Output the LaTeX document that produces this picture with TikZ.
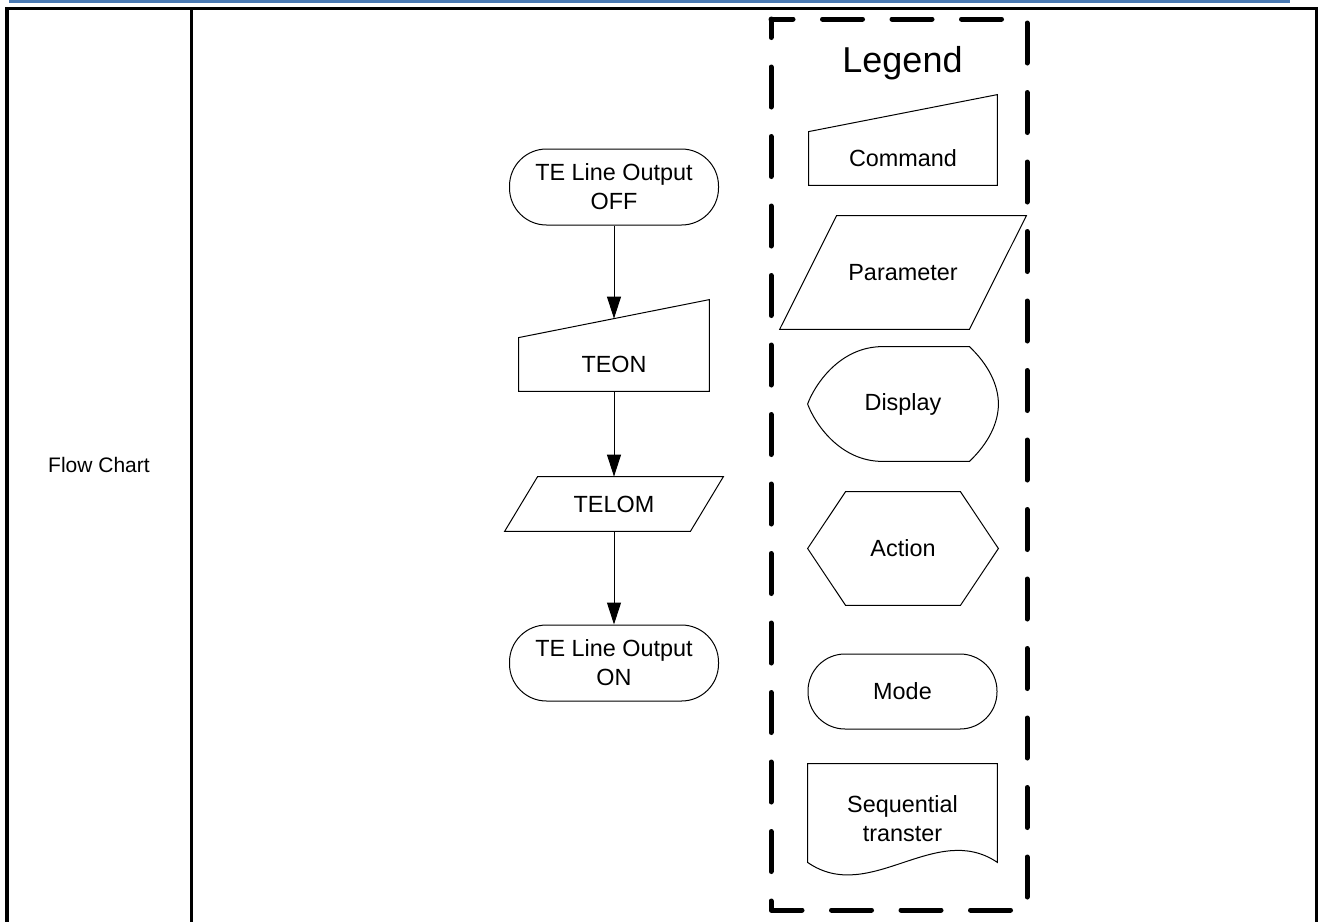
\documentclass[tikz,border=0pt]{standalone}
\usepackage{fontspec}
\setmainfont{Liberation Sans}
\usetikzlibrary{positioning,arrows.meta,calc}
\definecolor{headerblue}{RGB}{74,122,180}

\begin{document}
\begin{tikzpicture}[
  x=0.5pt, y=-0.5pt,
  font=\fontsize{11.7}{14.5}\selectfont,
  txt/.style={inner sep=0pt, align=center},
  modebox/.style={txt, draw, line width=0.5pt, rounded corners=18.5pt,
                  minimum width=104.5pt, minimum height=38pt},
  cmdbody/.style={txt, minimum width=95pt, minimum height=26.5pt},
  outline/.style={line width=0.5pt, line join=miter},
  arr/.style={-{Triangle[length=11pt,width=7pt]}, line width=0.5pt},
  rule/.style={line width=1.5pt},
  legendframe/.style={line width=2.5pt, line cap=round, line join=round,
                      dash pattern=on 20pt off 14.75pt, dash phase=9pt}
]
\useasboundingbox (0,0) rectangle (1323,922);

%% table frame
\fill[headerblue] (9,0) rectangle (1290,2.7);
\draw[line width=1.4pt] (5,8.3) -- (1318,8.3);
\draw[line width=2pt] (7,8.3) -- (7,922);
\draw[rule] (191.3,8.3) -- (191.3,922);
\draw[rule] (1316.5,8.3) -- (1316.5,922);
\node[font=\fontsize{10.5}{12.6}\selectfont] (rowlabel) at (99,465) {Flow Chart};

%% flow chart
\node[modebox] (off) at (614,187) {TE Line Output\\OFF};
\node[cmdbody] (teon) at (614,364.5) {TEON};
\node[txt, minimum width=76pt, minimum height=27pt] (telom) at (614,504) {TELOM};
\node[modebox] (on) at (614,663) {TE Line Output\\ON};
\coordinate (teonin) at ($(teon.north)+(0,-19)$);

\draw[outline] (teon.south west) -- (teon.north west)
  -- ($(teon.north east)+(0,-38)$) -- (teon.south east) -- cycle;
\draw[outline] (telom.north west) -- ($(telom.north east)+(33,0)$)
  -- (telom.south east) -- ($(telom.south west)+(-33,0)$) -- cycle;

\draw[arr] (off.south) -- (teonin);
\draw[arr] (teon.south) -- (telom.north);
\draw[arr] (telom.south) -- (on.north);

%% legend
\draw[legendframe] (771,19) -- (1027,19) -- (1027,910) -- (771,910) -- cycle;
\node[txt, font=\fontsize{18}{22}\selectfont] (legend) at (902.5,63) {Legend};
\node[cmdbody, minimum width=94pt] (cmd) at (903,158.5) {Command};
\node[txt, minimum width=66pt, minimum height=56.5pt] (param) at (903,272.5) {Parameter};
\node[txt, minimum width=95pt, minimum height=57pt] (disp) at (903,404) {Display};
\node[txt, minimum width=95pt, minimum height=56.5pt] (act) at (903,548.5) {Action};
\node[modebox, minimum width=94.5pt, minimum height=37.5pt] (mode) at (902.5,691.5) {Mode};
\node[txt, minimum width=94.5pt, minimum height=55pt] (seq) at (902.5,819) {Sequential\\transter};

\draw[outline] (cmd.south west) -- (cmd.north west)
  -- ($(cmd.north east)+(0,-37)$) -- (cmd.south east) -- cycle;
\draw[outline] (param.north west) -- ($(param.north east)+(57,0)$)
  -- (param.south east) -- ($(param.south west)+(-57,0)$) -- cycle;
\draw[outline] ($(disp.north west)+(75,0)$) -- ($(disp.north east)+(-29,0)$)
  .. controls ($(disp.north east)+(-10,18)$) and ($(disp.east)+(0,-19)$) .. (disp.east)
  .. controls ($(disp.east)+(0,19)$) and ($(disp.south east)+(-10,-18)$) .. ($(disp.south east)+(-29,0)$)
  -- ($(disp.south west)+(75,0)$)
  .. controls ($(disp.south west)+(32,0)$) and ($(disp.west)+(7,19)$) .. (disp.west)
  .. controls ($(disp.west)+(7,-19)$) and ($(disp.north west)+(32,0)$) .. cycle;
\draw[outline] (act.west) -- ($(act.north west)+(38,0)$) -- ($(act.north east)+(-38,0)$)
  -- (act.east) -- ($(act.south east)+(-38,0)$) -- ($(act.south west)+(38,0)$) -- cycle;
\draw[outline] ($(seq.south west)+(0,-12)$) -- (seq.north west) -- (seq.north east)
  -- ($(seq.south east)+(0,-12)$)
  .. controls ($(seq.south east)+(-62,-54)$) and ($(seq.south west)+(62,31)$) .. cycle;
\end{tikzpicture}
\end{document}
